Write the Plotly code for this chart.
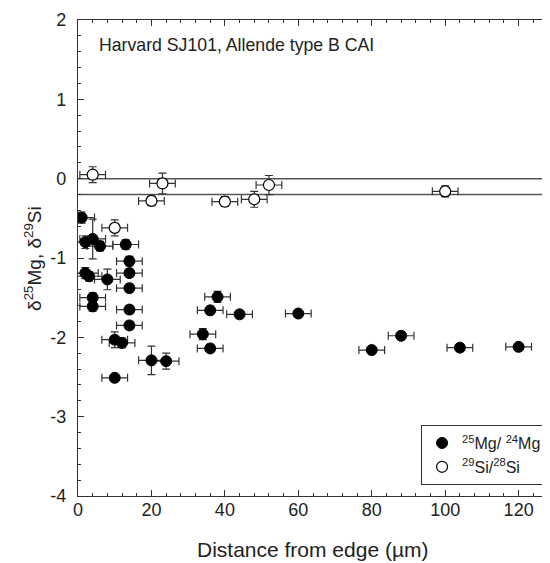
import plotly.graph_objects as go

# Mg data (filled circles)
mg_x = [1, 2, 4, 6, 13, 14, 14, 14, 2, 3, 8, 4, 4, 14, 14, 10, 12, 20, 24, 10,
        38, 36, 44, 60, 34, 36, 88, 80, 104, 120]
mg_y = [-0.49, -0.80, -0.76, -0.85, -0.83, -1.04, -1.19, -1.38, -1.19, -1.23, -1.27, -1.50, -1.61,
        -1.65, -1.85, -2.03, -2.07, -2.29, -2.30, -2.51,
        -1.49, -1.66, -1.71, -1.70, -1.96, -2.14, -1.98, -2.16, -2.13, -2.12]
mg_yerr = [0.07, 0.08, 0.25, 0.06, 0.06, 0.06, 0.05, 0.05, 0.07, 0.06, 0.13, 0.06, 0.06,
           0.05, 0.05, 0.10, 0.06, 0.18, 0.10, 0.04,
           0.07, 0.05, 0.04, 0.04, 0.07, 0.05, 0.04, 0.04, 0.04, 0.04]
mg_xerr = [3.5] * len(mg_x)

# Si data (open circles)
si_x = [4, 23, 20, 10, 52, 48, 40, 100]
si_y = [0.05, -0.06, -0.28, -0.62, -0.08, -0.26, -0.29, -0.16]
si_yerr = [0.10, 0.13, 0.06, 0.10, 0.12, 0.10, 0.06, 0.07]
si_xerr = [3.5] * len(si_x)

ref_lines = [0, -0.2]

x_ticks = [0, 20, 40, 60, 80, 100, 120]
x_ticklabels = ["0", "20", "40", "60", "80", "100", "120"]
y_ticks = [-4, -3, -2, -1, 0, 1, 2]
y_ticklabels = ["-4", "-3", "-2", "-1", "0", "1", "2"]

FONT = "Liberation Sans, Arial, sans-serif"
fig = go.Figure()

fig.add_trace(go.Scatter(
    x=mg_x, y=mg_y, mode="markers", name="<sup>25</sup>Mg/ <sup>24</sup>Mg",
    marker=dict(symbol="circle", size=11, color="black", line=dict(color="black", width=1)),
    error_y=dict(type="data", array=mg_yerr, color="#333", thickness=1.2, width=4),
    error_x=dict(type="data", array=mg_xerr, color="#333", thickness=1.2, width=4),
))
fig.add_trace(go.Scatter(
    x=si_x, y=si_y, mode="markers", name="<sup>29</sup>Si/<sup>28</sup>Si",
    marker=dict(symbol="circle", size=11, color="white", line=dict(color="black", width=1.2)),
    error_y=dict(type="data", array=si_yerr, color="#333", thickness=1.2, width=4),
    error_x=dict(type="data", array=si_xerr, color="#333", thickness=1.2, width=4),
))

for yv in ref_lines:
    fig.add_shape(type="line", xref="paper", x0=0, x1=1, yref="y", y0=yv, y1=yv,
                  line=dict(color="#555", width=1.5), layer="below")

fig.add_annotation(text="Harvard SJ101, Allende type B CAI", xref="paper", yref="paper",
                   x=0.04, y=0.9475, xanchor="left", yanchor="middle", showarrow=False,
                   font=dict(family=FONT, size=17.7, color="#222"))

# axis titles as annotations for precise placement
fig.add_annotation(text="Distance from edge (µm)", xref="paper", yref="paper",
                   x=0.5, y=-0.113, xanchor="center", yanchor="middle", showarrow=False,
                   font=dict(family=FONT, size=21, color="#222"))
fig.add_annotation(text="δ<sup>25</sup>Mg, δ<sup>29</sup>Si", xref="paper", yref="paper",
                   x=-0.096, y=0.5, xanchor="center", yanchor="middle", showarrow=False,
                   textangle=-90, font=dict(family=FONT, size=19, color="#222"))

fig.update_xaxes(range=[0, 128], tickvals=x_ticks, ticktext=x_ticklabels,
                 ticks="inside", ticklen=6, tickcolor="#333",
                 showline=True, linecolor="#333", linewidth=1.2, mirror="ticks",
                 showgrid=False, zeroline=False, automargin=False,
                 minor=dict(ticks="inside", dtick=4, tick0=0, ticklen=3, tickcolor="#333"),
                 tickfont=dict(family=FONT, size=18, color="#222"), ticklabelstandoff=-3)
fig.update_yaxes(range=[-4, 2], tickvals=y_ticks, ticktext=y_ticklabels,
                 ticks="inside", ticklen=6, tickcolor="#333",
                 showline=True, linecolor="#333", linewidth=1.2, mirror="ticks",
                 showgrid=False, zeroline=False, automargin=False,
                 minor=dict(ticks="inside", dtick=0.2, tick0=0, ticklen=3, tickcolor="#333"),
                 tickfont=dict(family=FONT, size=18, color="#222"), ticklabelstandoff=7)

fig.update_layout(
    width=542, height=555,
    margin=dict(l=70, r=2, t=12, b=67, autoexpand=False),
    plot_bgcolor="white", paper_bgcolor="white",
    showlegend=True,
    legend=dict(x=0.998, y=0.149, xanchor="right", yanchor="top",
                bordercolor="#333", borderwidth=1, bgcolor="white",
                font=dict(family=FONT, size=16, color="#222"),
                itemwidth=30, tracegroupgap=0),
)

fig.write_html("out.html")
